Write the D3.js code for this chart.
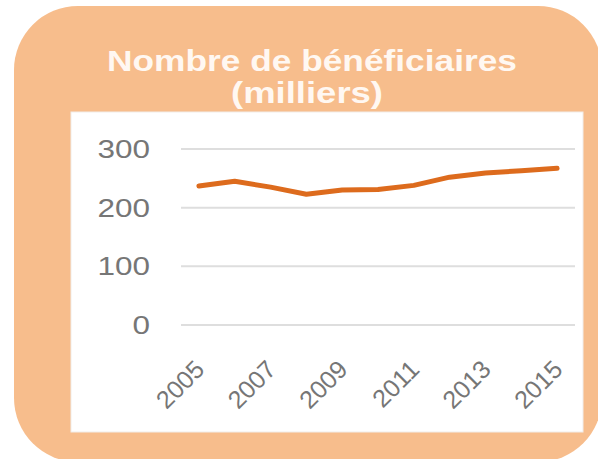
<!DOCTYPE html>
<html>
<head>
<meta charset="utf-8">
<script src="https://cdn.jsdelivr.net/npm/d3@7"></script>
<style>
  body { margin: 0; background: #ffffff; }
  #chart text { font-family: "Liberation Sans", Arial, sans-serif; }
</style>
</head>
<body>
<div id="chart"></div>
<script>
window.onload = function () {

/* chart data */
var years = ["2005","2006","2007","2008","2009","2010","2011","2012","2013","2014","2015"];
var beneficiaires = [237, 245, 235, 223, 230, 231, 238, 252, 259, 263, 267];
var yTicks = [0, 100, 200, 300];
var xLabels = ["2005","2007","2009","2011","2013","2015"];
var titleLines = ["Nombre de bénéficiaires", "(milliers)"];

var width = 598, height = 459;

var svg = d3.select("#chart").append("svg")
  .attr("width", width)
  .attr("height", height);

/* orange rounded card */
svg.append("rect")
  .attr("x", 14)
  .attr("y", 6)
  .attr("width", 588)
  .attr("height", 456)
  .attr("rx", 64)
  .attr("fill", "#f7bd8c");

/* title, two lines */
var titleY = [71, 103];
var titleX = [312, 307];
var titleLen = [410, 152];
svg.selectAll(".title")
  .data(titleLines)
  .enter().append("text")
  .attr("class", "title")
  .attr("x", function(d,i){ return titleX[i]; })
  .attr("y", function(d,i){ return titleY[i]; })
  .attr("text-anchor", "middle")
  .attr("textLength", function(d,i){ return titleLen[i]; })
  .attr("lengthAdjust", "spacingAndGlyphs")
  .style("font-size", "29px")
  .style("font-weight", "bold")
  .attr("fill", "#fff8f2")
  .text(function(d){ return d; });

/* white plot panel */
svg.append("rect")
  .attr("x", 71)
  .attr("y", 112)
  .attr("width", 512)
  .attr("height", 320)
  .attr("fill", "#ffffff")
  .attr("stroke", "#f1ede9")
  .attr("stroke-width", 1);

/* scales */
var x = d3.scaleBand()
  .domain(years)
  .range([181, 575]);

var y = d3.scaleLinear()
  .domain([0, 300])
  .range([325, 149]);

/* horizontal gridlines */
svg.append("g")
  .selectAll("line")
  .data(yTicks)
  .enter().append("line")
  .attr("x1", 181)
  .attr("x2", 575)
  .attr("y1", function(d){ return y(d); })
  .attr("y2", function(d){ return y(d); })
  .attr("stroke", "#dedede")
  .attr("stroke-width", 2);

/* y axis labels */
var yAxis = svg.append("g")
  .attr("transform", "translate(150,0)")
  .call(d3.axisLeft(y).tickValues(yTicks).tickSize(0).tickPadding(0));
yAxis.select(".domain").remove();
yAxis.selectAll("text")
  .attr("fill", "#767676")
  .attr("dy", "0.34em")
  .attr("textLength", function(d){ return String(d).length * 17.5; })
  .attr("lengthAdjust", "spacingAndGlyphs")
  .style("font-size", "25px");

/* x axis labels, rotated */
var xAxis = svg.append("g")
  .attr("transform", "translate(0,325)")
  .call(d3.axisBottom(x).tickValues(xLabels).tickSize(0));
xAxis.select(".domain").remove();
xAxis.selectAll("text")
  .attr("fill", "#767676")
  .attr("text-anchor", "end")
  .attr("x", 0)
  .attr("y", 0)
  .attr("dy", 0)
  .attr("transform", "translate(7,46) rotate(-45)")
  .style("font-size", "25px");

/* the line */
var line = d3.line()
  .x(function(d,i){ return x(years[i]) + x.bandwidth()/2; })
  .y(function(d){ return y(d); });

svg.append("path")
  .datum(beneficiaires)
  .attr("d", line)
  .attr("fill", "none")
  .attr("stroke", "#dd6b1d")
  .attr("stroke-width", 5)
  .attr("stroke-linejoin", "round")
  .attr("stroke-linecap", "round");

}
</script>
</body>
</html>
